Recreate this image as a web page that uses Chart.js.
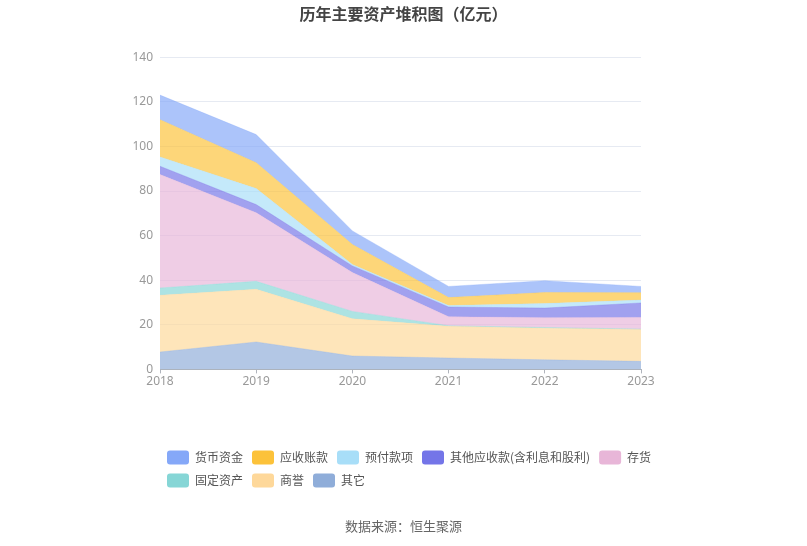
<!DOCTYPE html>
<html lang="zh">
<head>
    <meta charset="UTF-8">
    <title>历年主要资产堆积图</title>
    <script src="https://cdn.jsdelivr.net/npm/chart.js"></script>
    <style>
        body {
            margin: 0;
            background: #fff;
        }
        .chart-box {
            width: 807px;
            height: 546px;
        }
    </style>
</head>
<body>
    <div class="chart-box">
        <canvas id="chart"></canvas>
    </div>

    <script>
        // 年份与各项资产 (亿元)，从下往上堆积
        const years = ['2018', '2019', '2020', '2021', '2022', '2023'];
        const qita = [7.8, 12.3, 6.0, 5.1, 4.3, 3.6];          // 其它
        const shangyu = [25.4, 23.6, 16.7, 14.2, 14.2, 14.3];  // 商誉
        const gudingzichan = [3.3, 3.6, 3.3, 0.3, 0.3, 0.2];   // 固定资产
        const cunhuo = [50.9, 30.8, 17.4, 4.0, 4.4, 5.2];      // 存货
        const qitayingshou = [3.7, 3.6, 3.0, 4.4, 4.3, 6.5];   // 其他应收款
        const yufu = [4.2, 7.2, 0.6, 0.6, 2.0, 1.3];           // 预付款项
        const yingshou = [16.7, 11.6, 9.0, 3.6, 5.0, 3.3];     // 应收账款
        const huobi = [11.0, 12.6, 6.1, 5.0, 5.3, 2.8];        // 货币资金
        const yTicks = [0, 20, 40, 60, 80, 100, 120, 140];

        const series = [
            { label: '其它', data: qita, color: '143, 173, 217' },
            { label: '商誉', data: shangyu, color: '254, 216, 154' },
            { label: '固定资产', data: gudingzichan, color: '134, 214, 214' },
            { label: '存货', data: cunhuo, color: '232, 182, 216' },
            { label: '其他应收款(含利息和股利)', data: qitayingshou, color: '116, 117, 232' },
            { label: '预付款项', data: yufu, color: '168, 222, 248' },
            { label: '应收账款', data: yingshou, color: '252, 194, 58' },
            { label: '货币资金', data: huobi, color: '133, 168, 248' }
        ];

        const datasets = series.map((s, i) => ({
            label: s.label,
            data: s.data,
            backgroundColor: 'rgba(' + s.color + ', 0.68)',
            borderColor: 'rgba(' + s.color + ', 0.3)',
            borderWidth: 1,
            legendColor: 'rgb(' + s.color + ')',
            fill: i === 0 ? 'origin' : '-1',
            pointRadius: 0,
            tension: 0
        }));

        // 图例靠左对齐，标题和来源居中到整个画布
        const boxShift = {
            id: 'boxShift',
            afterLayout(chart) {
                const lg = chart.legend;
                const w = lg.right - lg.left;
                lg.left = 158;
                lg.right = 158 + w;
                chart.boxes.forEach(b => {
                    if (b.options && b.options.text && b !== lg) {
                        b.left = 0;
                        b.right = 807;
                        b.width = 807;
                    }
                });
            }
        };

        new Chart(document.getElementById('chart'), {
            type: 'line',
            data: { labels: years, datasets: datasets },
            plugins: [boxShift],
            options: {
                responsive: true,
                maintainAspectRatio: false,
                animation: false,
                layout: { padding: { left: 120, right: 166, top: 0, bottom: 0 } },
                plugins: {
                    title: {
                        display: true,
                        text: '历年主要资产堆积图（亿元）',
                        color: '#444',
                        font: { size: 16, weight: 'bold', family: "'Noto Sans CJK SC', sans-serif" },
                        padding: { top: 4, bottom: 34 }
                    },
                    subtitle: {
                        display: true,
                        position: 'bottom',
                        text: '数据来源：恒生聚源',
                        color: '#666',
                        font: { size: 13, family: "'Noto Sans CJK SC', sans-serif" },
                        padding: { top: 21, bottom: 12 }
                    },
                    legend: {
                        position: 'bottom',
                        align: 'start',
                        reverse: true,
                        labels: {
                            boxWidth: 22,
                            boxHeight: 14,
                            padding: 9,
                            color: '#555',
                            useBorderRadius: true,
                            borderRadius: 3,
                            font: { size: 12, family: "'Noto Sans CJK SC', sans-serif" },
                            generateLabels(chart) {
                                return chart.data.datasets.map((ds, i) => ({
                                    text: ds.label,
                                    fillStyle: ds.legendColor,
                                    strokeStyle: ds.legendColor,
                                    lineWidth: 0,
                                    borderRadius: 3,
                                    fontColor: '#555',
                                    hidden: !chart.isDatasetVisible(i),
                                    datasetIndex: i
                                }));
                            }
                        }
                    },
                    tooltip: { enabled: false }
                },
                scales: {
                    x: {
                        grid: {
                            display: true,
                            drawOnChartArea: false,
                            drawTicks: true,
                            tickLength: 4,
                            color: '#b0b4bc'
                        },
                        border: { color: '#b0b4bc' },
                        ticks: {
                            color: '#999',
                            padding: 1,
                            maxRotation: 0,
                            font: { size: 12, family: "'Noto Sans', sans-serif" }
                        },
                        afterFit(scale) { scale.height = 72; }
                    },
                    y: {
                        stacked: true,
                        min: yTicks[0],
                        max: yTicks[yTicks.length - 1],
                        grid: {
                            color: '#e6eaf2',
                            drawTicks: false
                        },
                        border: { display: false },
                        ticks: {
                            stepSize: 20,
                            color: '#999',
                            padding: 7,
                            font: { size: 12, family: "'Noto Sans', sans-serif" }
                        },
                        afterFit(scale) { scale.width = 40; }
                    }
                }
            }
        });
    </script>
</body>
</html>
